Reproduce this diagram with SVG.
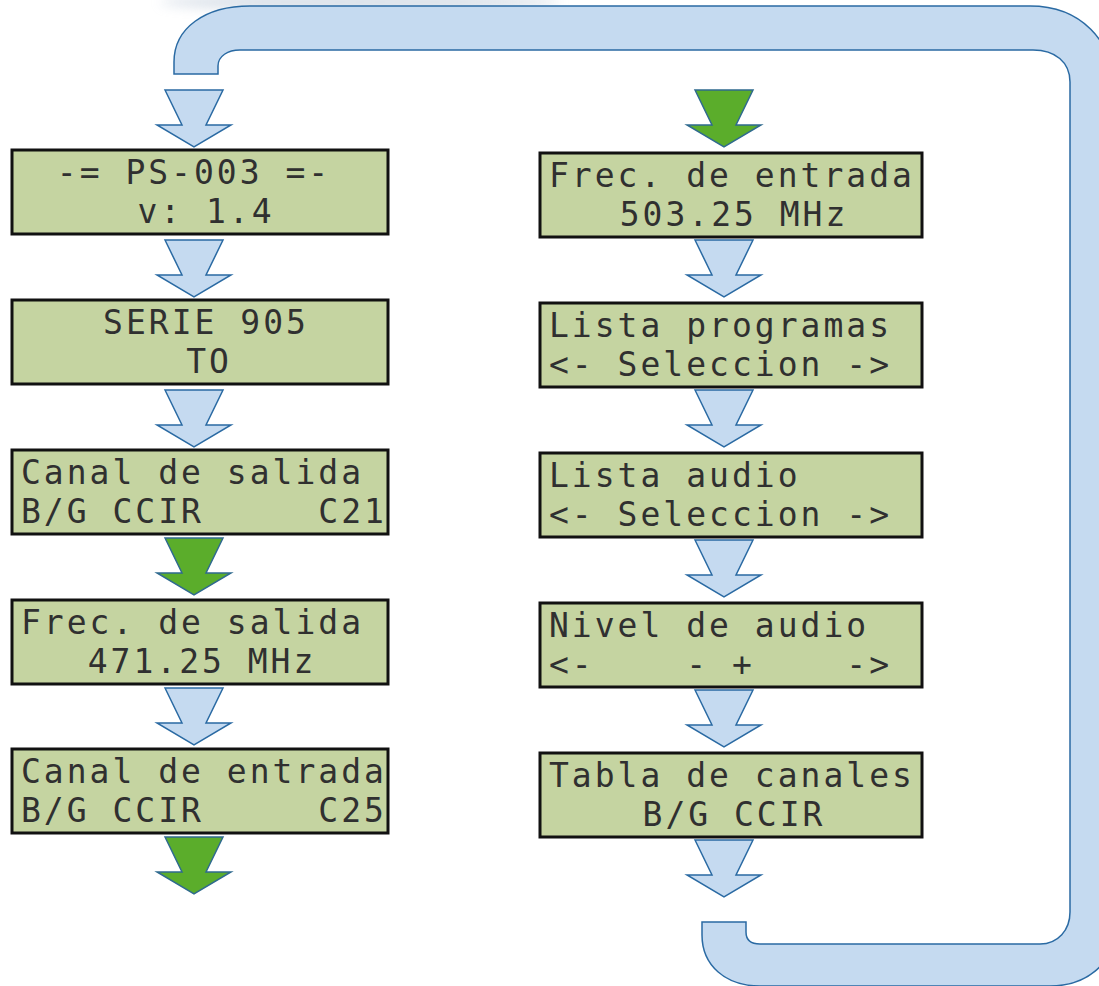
<svg xmlns="http://www.w3.org/2000/svg" width="1099" height="986" viewBox="0 0 1099 986">
  <style>
    .lcd { fill: #c5d4a1; stroke: #111; stroke-width: 3; }
    .txt { font-family: "DejaVu Sans Mono", "Liberation Mono", monospace; font-size: 33px; letter-spacing: 3px; fill: #303030; }
    .mid { text-anchor: middle; }
    .blue { fill: #c5daf0; stroke: #2a6aa3; stroke-width: 1.5; stroke-linejoin: miter; }
    .green { fill: #5bad2b; stroke: #2f6a8f; stroke-width: 1.5; stroke-linejoin: miter; }
  </style>
  <defs>
    <path id="arr" d="M-29,0 L-12,35 L-37,35 L0,57 L37,35 L12,35 L29,0 Z"/>
    <filter id="blur" x="-20%" y="-100%" width="140%" height="300%">
      <feGaussianBlur stdDeviation="6"/>
    </filter>
  </defs>
  <rect width="1099" height="986" fill="#ffffff"/>
  <ellipse cx="360" cy="2" rx="200" ry="8" fill="#b9c6d6" opacity="0.55" filter="url(#blur)"/>

  <g id="connectors">
    <path class="blue" d="M174,74 L174,62 C174,28 205,6 250,6 L1030,6 C1080,6 1114,40 1114,90 L1114,930 C1114,965 1085,986 1050,986 L760,986 C725,986 702,965 702,935 L702,922 L746,922 L746,932 C746,940 751,944 760,944 L1040,944 C1058,944 1070,930 1070,912 L1070,82 C1070,62 1055,50 1033,50 L240,50 C228,50 218,56 218,66 L218,74 Z"/>
    <use href="#arr" class="blue" transform="translate(194,90)"/>
    <use href="#arr" class="blue" transform="translate(194,240)"/>
    <use href="#arr" class="blue" transform="translate(194,390)"/>
    <use href="#arr" class="green" transform="translate(194,538)"/>
    <use href="#arr" class="blue" transform="translate(194,688)"/>
    <use href="#arr" class="green" transform="translate(194,837)"/>
    <use href="#arr" class="green" transform="translate(724,90)"/>
    <use href="#arr" class="blue" transform="translate(724,240)"/>
    <use href="#arr" class="blue" transform="translate(724,390)"/>
    <use href="#arr" class="blue" transform="translate(724,540)"/>
    <use href="#arr" class="blue" transform="translate(724,690)"/>
    <use href="#arr" class="blue" transform="translate(724,840)"/>
  </g>

  <g id="node-ps003">
    <rect class="lcd" x="12" y="150" width="376" height="84"/>
    <text class="txt mid"><tspan x="194" y="184">-= PS-003 =-</tspan><tspan x="206" y="223">v: 1.4</tspan></text>
  </g>
  <g id="node-serie">
    <rect class="lcd" x="12" y="300" width="376" height="84"/>
    <text class="txt mid"><tspan x="206" y="334">SERIE 905</tspan><tspan x="209" y="373">TO</tspan></text>
  </g>
  <g id="node-canal-salida">
    <rect class="lcd" x="12" y="450" width="376" height="84"/>
    <text class="txt" xml:space="preserve"><tspan x="21" y="484">Canal de salida</tspan><tspan x="21" y="523">B/G CCIR     C21</tspan></text>
  </g>
  <g id="node-frec-salida">
    <rect class="lcd" x="12" y="600" width="376" height="84"/>
    <text class="txt"><tspan x="21" y="634">Frec. de salida</tspan><tspan x="202" y="673" text-anchor="middle">471.25 MHz</tspan></text>
  </g>
  <g id="node-canal-entrada">
    <rect class="lcd" x="12" y="749" width="376" height="84"/>
    <text class="txt" xml:space="preserve"><tspan x="21" y="783">Canal de entrada</tspan><tspan x="21" y="822">B/G CCIR     C25</tspan></text>
  </g>

  <g id="node-frec-entrada">
    <rect class="lcd" x="540" y="153" width="382" height="84"/>
    <text class="txt"><tspan x="549" y="187">Frec. de entrada</tspan><tspan x="734" y="226" text-anchor="middle">503.25 MHz</tspan></text>
  </g>
  <g id="node-lista-programas">
    <rect class="lcd" x="540" y="303" width="382" height="84"/>
    <text class="txt"><tspan x="549" y="337">Lista programas</tspan><tspan x="549" y="376">&lt;- Seleccion -&gt;</tspan></text>
  </g>
  <g id="node-lista-audio">
    <rect class="lcd" x="540" y="453" width="382" height="84"/>
    <text class="txt"><tspan x="549" y="487">Lista audio</tspan><tspan x="549" y="526">&lt;- Seleccion -&gt;</tspan></text>
  </g>
  <g id="node-nivel-audio">
    <rect class="lcd" x="540" y="603" width="382" height="84"/>
    <text class="txt" xml:space="preserve"><tspan x="549" y="637">Nivel de audio</tspan><tspan x="549" y="676">&lt;-    - +    -&gt;</tspan></text>
  </g>
  <g id="node-tabla-canales">
    <rect class="lcd" x="540" y="753" width="382" height="84"/>
    <text class="txt"><tspan x="549" y="787">Tabla de canales</tspan><tspan x="734" y="826" text-anchor="middle">B/G CCIR</tspan></text>
  </g>
</svg>
